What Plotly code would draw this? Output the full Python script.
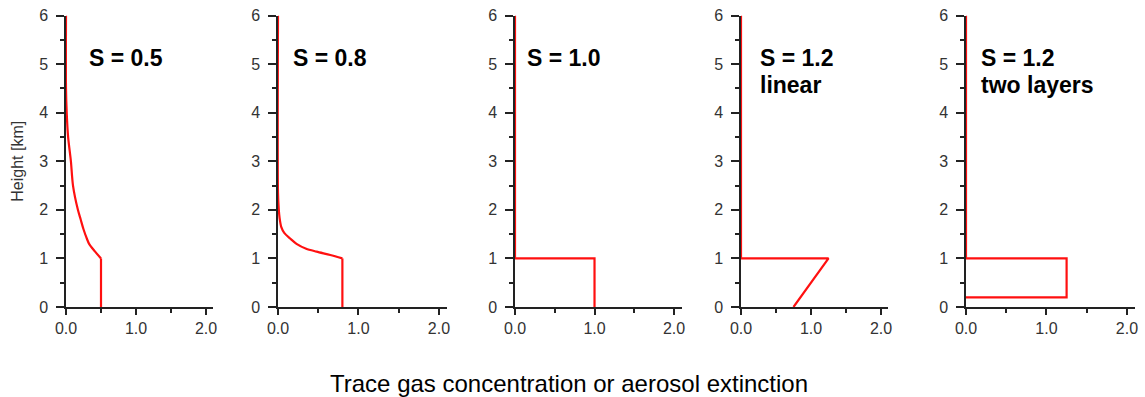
import plotly.graph_objects as go

# Vertical profiles: value (x) against height in km (h)
s05_x = [0.5, 0.5, 0.41, 0.33, 0.30, 0.25, 0.21, 0.17, 0.10, 0.07, 0.03, 0.01, 0.0, 0.0]
s05_h = [0.0, 1.0, 1.15, 1.3, 1.4, 1.6, 1.8, 2.0, 2.5, 3.0, 3.5, 4.0, 4.5, 6.0]

s08_x = [0.8, 0.8, 0.65, 0.48, 0.35, 0.23, 0.15, 0.08, 0.04, 0.02, 0.01, 0.0, 0.0]
s08_h = [0.0, 1.0, 1.07, 1.14, 1.2, 1.3, 1.41, 1.52, 1.65, 1.83, 2.0, 2.35, 6.0]

s10_x = [1.0, 1.0, 0.0, 0.0]
s10_h = [0.0, 1.0, 1.0, 6.0]

s12_lin_x = [0.75, 1.25, 0.0, 0.0]
s12_lin_h = [0.0, 1.0, 1.0, 6.0]

s12_two_x = [0.0, 1.25, 1.25, 0.0, 0.0]
s12_two_h = [0.2, 0.2, 1.0, 1.0, 6.0]

panel_labels = [["S = 0.5"], ["S = 0.8"], ["S = 1.0"], ["S = 1.2", "linear"], ["S = 1.2", "two layers"]]
x_tick_vals = [0, 1, 2]
x_tick_text = ["0.0", "1.0", "2.0"]
y_tick_vals = [0, 1, 2, 3, 4, 5, 6]

# (x, h, smooth decay above the surface layer)
profiles = [
    (s05_x, s05_h, True),
    (s08_x, s08_h, True),
    (s10_x, s10_h, False),
    (s12_lin_x, s12_lin_h, False),
    (s12_two_x, s12_two_h, False),
]

W, H = 1145, 397
# pixel extents of each panel's x axis (left edge, right edge)
panel_px = [(66, 213), (278, 447), (515, 682), (741, 888), (966, 1135)]
label_left_px = [87, 291, 525, 758, 979]
y_top_px, y_bot_px = 15.5, 307

FONT = "Liberation Sans, Arial, sans-serif"
RED = "#ff1010"
axis_color = "#222222"
tick_color = "#333333"

fig = go.Figure()
layout = dict(
    width=W, height=H,
    margin=dict(l=0, r=0, t=0, b=0, autoexpand=False),
    paper_bgcolor="white", plot_bgcolor="white",
    showlegend=False,
    font=dict(family=FONT, color=tick_color),
)

annotations = []
for i, ((xs, hs, smooth), (x0, x1)) in enumerate(zip(profiles, panel_px)):
    n = "" if i == 0 else str(i + 1)
    ax = dict(xaxis="x" + n, yaxis="y" + n, hoverinfo="skip", mode="lines")
    if smooth:
        # constant surface layer, then a smooth decay aloft
        fig.add_trace(go.Scatter(x=xs[:2], y=hs[:2], line=dict(color=RED, width=2.2), **ax))
        fig.add_trace(go.Scatter(x=xs[1:], y=hs[1:],
                                 line=dict(color=RED, width=2.2, shape="spline", smoothing=0.8), **ax))
    else:
        fig.add_trace(go.Scatter(x=xs, y=hs, line=dict(color=RED, width=2.2), **ax))
    layout["xaxis" + n] = dict(
        domain=[x0 / W, x1 / W], range=[0, 2.1], anchor="y" + n,
        automargin=False,
        showline=True, linecolor=axis_color, linewidth=1.5,
        showgrid=False, zeroline=False,
        ticks="outside", ticklen=6, tickwidth=1.5, tickcolor=axis_color,
        tickvals=x_tick_vals, ticktext=x_tick_text,
        tickfont=dict(size=16, color=tick_color),
        minor=dict(ticks="outside", ticklen=4, tickwidth=1.5, tickcolor=axis_color,
                   dtick=0.5, tick0=0, showgrid=False),
        fixedrange=True,
    )
    layout["yaxis" + n] = dict(
        domain=[(H - y_bot_px) / H, (H - y_top_px) / H], range=[0, 6], anchor="x" + n,
        automargin=False,
        showline=True, linecolor=axis_color, linewidth=1.5,
        showgrid=False, zeroline=False,
        ticks="outside", ticklen=8, tickwidth=1.5, tickcolor=axis_color,
        tickvals=y_tick_vals, ticklabelstandoff=5,
        tickfont=dict(size=16, color=tick_color),
        minor=dict(ticks="outside", ticklen=4, tickwidth=1.5, tickcolor=axis_color,
                   dtick=0.5, tick0=0, showgrid=False),
        fixedrange=True,
    )
    for j, line in enumerate(panel_labels[i]):
        annotations.append(dict(
            text="<b>%s</b>" % line, xref="paper", yref="paper",
            x=label_left_px[i] / W, y=1 - (58 + 27 * j) / H,
            xanchor="left", yanchor="middle", showarrow=False,
            font=dict(size=23, color="black", family=FONT),
        ))

layout["yaxis"]["title"] = dict(text="Height [km]", font=dict(size=16, color=tick_color), standoff=12)

annotations.append(dict(
    text="Trace gas concentration or aerosol extinction", xref="paper", yref="paper",
    x=569 / W, y=1 - 383 / H, xanchor="center", yanchor="middle", showarrow=False,
    font=dict(size=24, color="black", family=FONT),
))
layout["annotations"] = annotations

fig.update_layout(**layout)
fig.write_html("out.html")
